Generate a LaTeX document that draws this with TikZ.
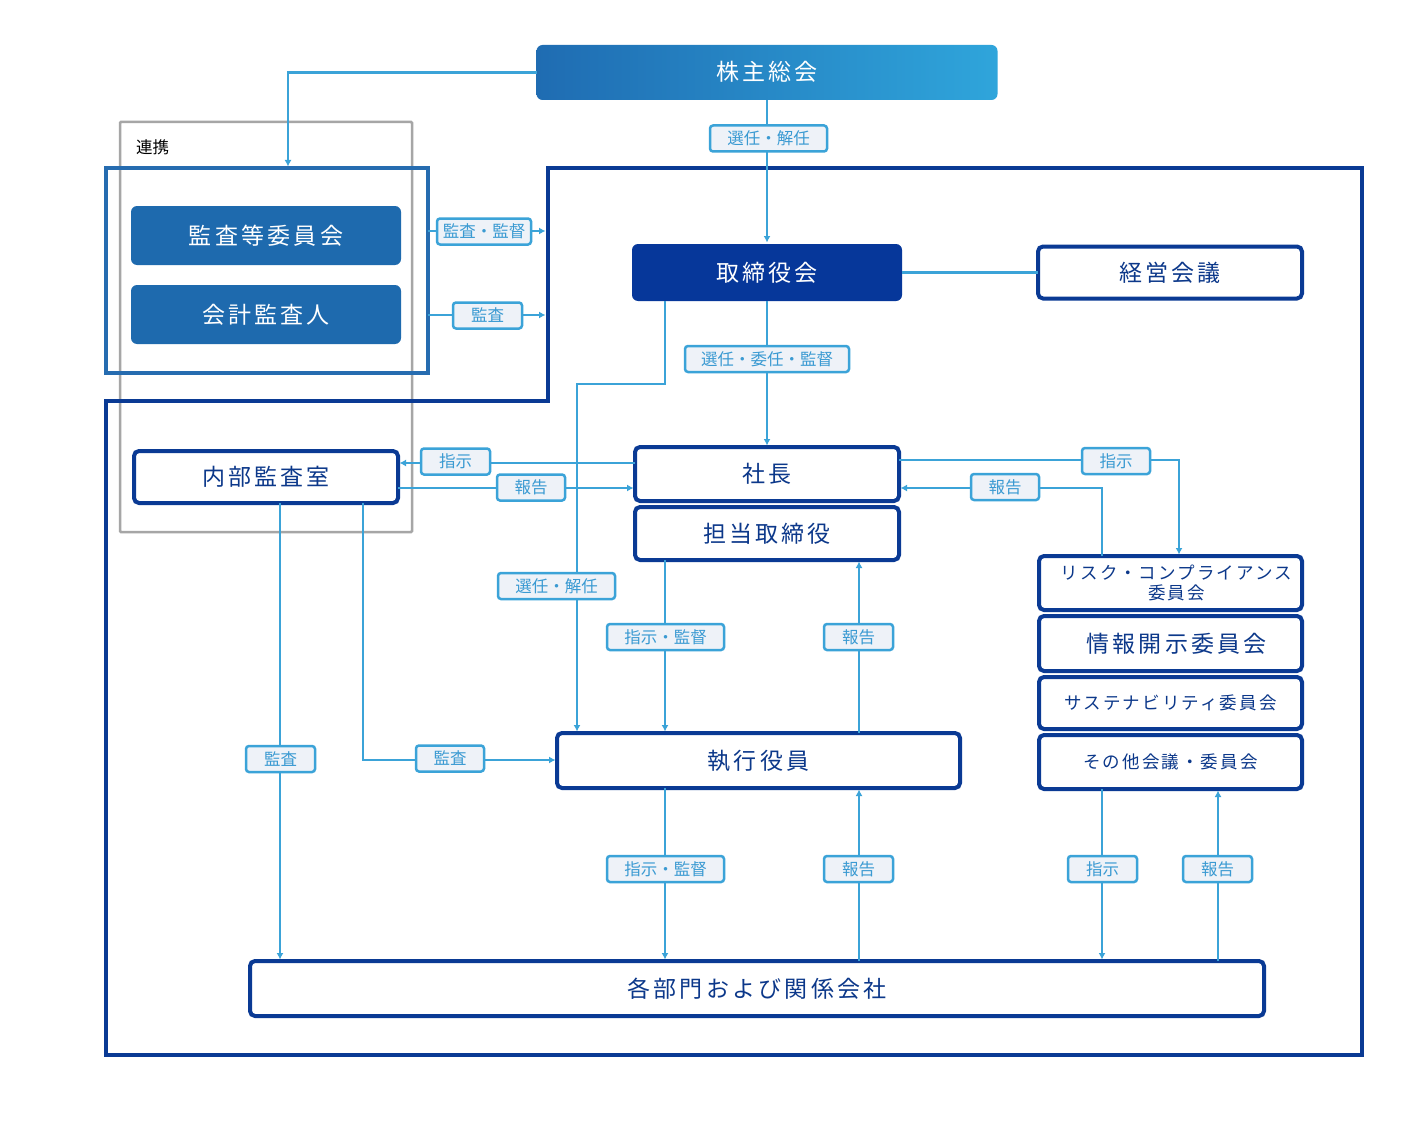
\documentclass[tikz,border=0pt]{standalone}
\usepackage{fontspec}
\usetikzlibrary{arrows.meta,calc}
\newfontfamily\jp{Noto Sans CJK JP}
\newfontfamily\jpsp[LetterSpace=14]{Noto Sans CJK JP}
\newfontfamily\jpss[LetterSpace=12]{Noto Sans CJK JP}
\definecolor{navy}{RGB}{10,58,148}
\definecolor{navytxt}{RGB}{12,56,138}
\definecolor{navyfill}{RGB}{6,55,154}
\definecolor{grpc}{RGB}{38,108,176}
\definecolor{grpfill}{RGB}{30,106,174}
\definecolor{lblue}{RGB}{59,163,216}
\definecolor{lblfill}{RGB}{238,242,248}
\definecolor{lbltxt}{RGB}{58,154,210}
\definecolor{grayc}{RGB}{166,166,166}
\definecolor{gL}{RGB}{31,108,178}
\definecolor{gR}{RGB}{47,165,219}
\begin{document}
\begin{tikzpicture}[x=1pt,y=-1pt,
  every node/.style={inner sep=0pt, outer sep=0pt},
  bigfont/.style={font=\jpsp\fontsize{23}{26}\selectfont, text height=20pt, text depth=3pt},
  smallfont/.style={font=\jpss\fontsize{17.5}{19.5}\selectfont},
  smallline/.style={smallfont, text height=15pt, text depth=2pt},
  box/.style={draw=navy, line width=4pt, rounded corners=5pt, fill=white, text=navytxt, bigfont},
  solid box/.style={rounded corners=6pt, text=white, bigfont},
  lbl/.style={draw=lblue, line width=2.5pt, fill=lblfill, rounded corners=3pt, text=lbltxt,
    font=\jp\fontsize{16.5}{16.5}\selectfont, text height=14.5pt, text depth=2.3pt, minimum height=26},
  conn/.style={draw=lblue, line width=2.8pt},
  arr/.style={conn, -{Latex[length=6.5pt,width=7pt]}, shorten >=1.5pt}]
\fill[white] (0,0) rectangle (1425,1121);
% 連携 frame
\node[draw=grayc, line width=2.5pt, minimum width=292, minimum height=410, rounded corners=1pt] (renkei) at (266,327) {};
\node[font=\jp\fontsize{16.5}{16.5}\selectfont, anchor=west] (renkeit) at (136,147) {連携};
% outer navy frame
\draw[navy, line width=3.8pt] (548,168) -- (1362,168) -- (1362,1055) -- (106,1055) -- (106,401) -- (548,401) -- cycle;
% audit group
\node[draw=grpc, line width=3.8pt, minimum width=322, minimum height=205] (grp) at (267,270.5) {};
\node[solid box, fill=grpfill, minimum width=270, minimum height=59] (kansa) at (266,235.5) {監査等委員会};
\node[solid box, fill=grpfill, minimum width=270, minimum height=59] (kaikei) at (266,314.5) {会計監査人};
% main boxes
\node[solid box, left color=gL, right color=gR, minimum width=461, minimum height=55] (kabu) at (767,72.5) {株主総会};
\node[solid box, fill=navyfill, minimum width=270, minimum height=57] (tori) at (767,272.5) {取締役会};
\node[box, minimum width=264, minimum height=52] (keiei) at (1170,272.5) {経営会議};
\node[box, minimum width=264, minimum height=54] (shacho) at (767,474) {社長};
\node[box, minimum width=264, minimum height=53] (tanto) at (767,533.5) {担当取締役};
\node[box, minimum width=264, minimum height=52] (naibu) at (266,477) {内部監査室};
\node[box, minimum width=403, minimum height=55] (shikko) at (758.5,760.5) {執行役員};
\node[box, minimum width=1014, minimum height=55] (kakubu) at (757,988.5) {各部門および関係会社};
\node[box, smallfont, text height={}, text depth={}, align=center, minimum width=263, minimum height=54] (risk) at (1170.5,583) {\hspace*{12pt}リスク・コンプライアンス\\\hspace*{12pt}委員会};
\node[box, minimum width=263, minimum height=55] (joho) at (1170.5,643.5) {\hspace*{12pt}情報開示委員会};
\node[box, smallline, minimum width=263, minimum height=52] (sus) at (1170.5,703) {サステナビリティ委員会};
\node[box, smallline, minimum width=263, minimum height=54] (sonota) at (1170.5,762) {その他会議・委員会};
% routing coordinates
\coordinate (x288) at (288,0);
\coordinate (r1) at (547,231);
\coordinate (r2) at (547,315);
\coordinate (r3) at (665,384);
\coordinate (r4) at (577,384);
\coordinate (y463) at (0,463);
\coordinate (y488) at (0,488);
\coordinate (x665) at (665,0);
\coordinate (x859) at (859,0);
\coordinate (x280) at (280,0);
\coordinate (r5) at (363,760);
\coordinate (r6) at (1179,460);
\coordinate (r7) at (1102,488);
\coordinate (x1102) at (1102,0);
\coordinate (x1218) at (1218,0);
% connectors
\draw[arr] (kabu.west) -| (x288 |- grp.north);
\draw[arr] (kabu.south) -- (tori.north);
\draw[arr] (grp.east |- r1) -- (r1);
\draw[arr] (grp.east |- r2) -- (r2);
\draw[conn] (tori.east) -- (keiei.west);
\draw[arr] (tori.south) -- (shacho.north);
\draw[arr] (tori.south -| r3) -- (r3) -- (r4) -- (r4 |- shikko.north);
\draw[arr] (shacho.west |- y463) -- (naibu.east |- y463);
\draw[arr] (naibu.east |- y488) -- (shacho.west |- y488);
\draw[arr] (x665 |- tanto.south) -- (x665 |- shikko.north);
\draw[arr] (x859 |- shikko.north) -- (x859 |- tanto.south);
\draw[arr] (x665 |- shikko.south) -- (x665 |- kakubu.north);
\draw[arr] (x859 |- kakubu.north) -- (x859 |- shikko.south);
\draw[arr] (x280 |- naibu.south) -- (x280 |- kakubu.north);
\draw[arr] (r5 |- naibu.south) -- (r5) -- (shikko.west |- r5);
\draw[arr] (shacho.east |- r6) -- (r6) -- (r6 |- risk.north);
\draw[arr] (r7 |- risk.north) -- (r7) -- (shacho.east |- r7);
\draw[arr] (x1102 |- sonota.south) -- (x1102 |- kakubu.north);
\draw[arr] (x1218 |- kakubu.north) -- (x1218 |- sonota.south);
% labels
\node[lbl, minimum width=117] (l1) at (768.5,138.5) {選任・解任};
\node[lbl, minimum width=94] (l2) at (484,231.5) {監査・監督};
\node[lbl, minimum width=69] (l3) at (487.5,315.5) {監査};
\node[lbl, minimum width=164] (l4) at (767,359) {選任・委任・監督};
\node[lbl, minimum width=117] (l5) at (556.5,586) {選任・解任};
\node[lbl, minimum width=69] (l6) at (455.5,461.5) {指示};
\node[lbl, minimum width=68] (l7) at (531,487.5) {報告};
\node[lbl, minimum width=117] (l8) at (665.5,637) {指示・監督};
\node[lbl, minimum width=69] (l9) at (858.5,637) {報告};
\node[lbl, minimum width=69] (l10) at (280.5,759) {監査};
\node[lbl, minimum width=68] (l11) at (450,758.5) {監査};
\node[lbl, minimum width=117] (l12) at (665.5,869) {指示・監督};
\node[lbl, minimum width=69] (l13) at (858.5,869) {報告};
\node[lbl, minimum width=68] (l14) at (1116,461) {指示};
\node[lbl, minimum width=68] (l15) at (1005,487) {報告};
\node[lbl, minimum width=69] (l16) at (1102.5,869) {指示};
\node[lbl, minimum width=69] (l17) at (1217.5,869) {報告};
\end{tikzpicture}
\end{document}
